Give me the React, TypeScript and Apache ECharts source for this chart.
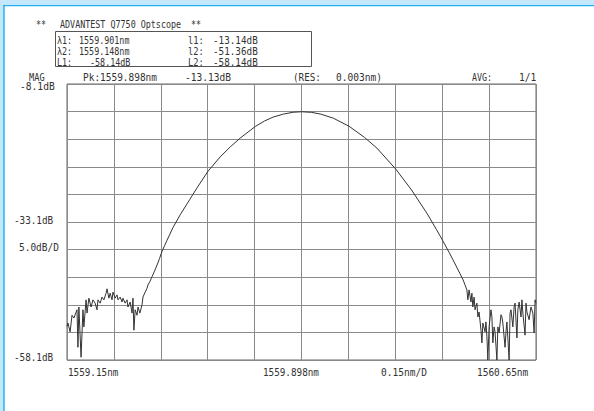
import React, { useEffect, useRef } from "react";
import * as echarts from "echarts";

// Trace samples: wavelength (nm) and level (dB)
const wavelengthNm = [
  1559.148, 1559.151, 1559.158, 1559.164, 1559.170, 1559.180, 1559.183, 1559.186, 1559.193, 1559.199,
  1559.202, 1559.209, 1559.212, 1559.218, 1559.225, 1559.231, 1559.238, 1559.244, 1559.247, 1559.254,
  1559.260, 1559.266, 1559.273, 1559.276, 1559.282, 1559.286, 1559.292, 1559.295, 1559.302, 1559.308,
  1559.311, 1559.318, 1559.324, 1559.327, 1559.334, 1559.340, 1559.343, 1559.350, 1559.356, 1559.359,
  1559.362, 1559.366, 1559.372, 1559.375, 1559.381, 1559.388, 1559.391, 1559.398, 1559.404,
  1559.407, 1559.413, 1559.420, 1559.428, 1559.436, 1559.444, 1559.452, 1559.460, 1559.468, 1559.487,
  1559.510, 1559.532, 1559.541, 1559.564, 1559.599, 1559.638, 1559.670, 1559.702, 1559.750, 1559.780,
  1559.807, 1559.840, 1559.871, 1559.899, 1559.930, 1559.960, 1560.000, 1560.050, 1560.100, 1560.139,
  1560.150, 1560.200, 1560.250, 1560.300, 1560.330, 1560.350, 1560.370, 1560.383, 1560.399, 1560.415,
  1560.421, 1560.427,
  1560.430, 1560.434, 1560.440, 1560.443, 1560.446, 1560.450, 1560.453, 1560.459, 1560.462, 1560.466,
  1560.472, 1560.475, 1560.478, 1560.485, 1560.488, 1560.491, 1560.494, 1560.498, 1560.504, 1560.507,
  1560.510, 1560.514, 1560.517, 1560.523, 1560.526, 1560.530, 1560.536, 1560.539, 1560.542, 1560.549,
  1560.552, 1560.555, 1560.562, 1560.565, 1560.568, 1560.574, 1560.578, 1560.581, 1560.587, 1560.590,
  1560.594, 1560.600, 1560.603, 1560.606, 1560.613, 1560.616, 1560.619, 1560.626, 1560.629, 1560.632,
  1560.638, 1560.642, 1560.645, 1560.648,
];
const powerDb = [
  -52.0, -51.4, -53.0, -50.0, -50.5, -49.0, -55.8, -48.5, -57.6, -49.0,
  -52.1, -47.2, -49.6, -46.9, -48.5, -47.2, -47.8, -49.0, -47.2, -47.8,
  -46.7, -47.2, -46.0, -45.2, -46.9, -46.0, -47.2, -45.8, -46.9, -46.3,
  -47.2, -46.7, -47.6, -46.9, -47.8, -47.2, -48.5, -47.6, -49.6, -46.9,
  -52.7, -49.0, -50.0, -48.5, -49.6, -48.1, -46.7, -45.8, -45.1,
  -44.5, -43.9, -43.0, -42.0, -40.9, -39.7, -38.4, -37.4, -36.4, -34.1,
  -31.8, -29.8, -29.0, -26.9, -23.9, -21.3, -19.5, -17.9, -15.8, -14.8,
  -14.1, -13.55, -13.22, -13.13, -13.24, -13.56, -14.3, -15.75, -17.8, -19.7,
  -20.4, -23.55, -27.3, -31.6, -34.5, -36.5, -38.6, -40.0, -41.8, -43.6,
  -44.5, -45.4,
  -47.2, -45.4, -47.6, -46.0, -48.5, -46.7, -49.0, -47.8, -50.3, -49.4,
  -52.7, -55.0, -51.4, -53.0, -51.2, -53.9, -58.1, -52.1, -49.0, -50.3,
  -55.0, -52.1, -53.0, -58.1, -52.1, -53.2, -49.9, -50.3, -51.4, -55.8,
  -53.0, -51.2, -58.1, -49.6, -49.0, -52.1, -48.5, -47.8, -54.1, -49.0,
  -47.6, -50.3, -47.2, -49.6, -53.6, -47.8, -49.4, -50.8, -49.6, -48.5,
  -49.6, -53.2, -47.2, -47.8,
];

// Axis scale (centre 1559.898 nm, 0.15 nm/div; ref -8.1 dB, 5 dB/div)
const xMin = 1559.148;
const xMax = 1560.648;
const xStep = 0.15;
const yMin = -58.1;
const yMax = -8.1;
const yStep = 5;

// Header / annotation texts: [text, x, y, char width]
const headerTexts: [string, number, number, number][] = [
  ["**", 36, 24, 5.05],
  ["ADVANTEST Q7750 Optscope", 60, 24, 5.05],
  ["**", 191, 24, 5.05],
  ["λ1:", 57, 40, 5.05],
  ["1559.901nm", 79, 40, 5.05],
  ["l1:", 188, 40, 5.3],
  ["-13.14dB", 213, 40, 5.6],
  ["λ2:", 57, 51, 5.05],
  ["1559.148nm", 79, 51, 5.05],
  ["l2:", 188, 51, 5.3],
  ["-51.36dB", 213, 51, 5.6],
  ["L1:", 57, 62, 5.05],
  ["-58.14dB", 90, 62, 5.05],
  ["L2:", 188, 62, 5.3],
  ["-58.14dB", 213, 62, 5.6],
];
const axisTexts: [string, number, number, number][] = [
  ["MAG", 29, 77, 5.2],
  ["-8.1dB", 20, 86, 5.8],
  ["Pk:1559.898nm", 83, 77, 5.7],
  ["-13.13dB", 185, 77, 5.75],
  ["(RES:", 293, 77, 5.6],
  ["0.003nm)", 336, 77, 5.75],
  ["AVG:", 472, 77, 5.0],
  ["1/1", 519, 77, 5.8],
  ["-33.1dB", 14, 220, 5.6],
  ["5.0dB/D", 19, 247, 5.7],
  ["-58.1dB", 14, 357, 5.6],
  ["1559.15nm", 68, 372, 5.6],
  ["1559.898nm", 263, 372, 5.6],
  ["0.15nm/D", 381, 372, 5.75],
  ["1560.65nm", 477, 372, 5.7],
];

const FONT = "DejaVu Sans Mono";
const FS = 10;
const ADV = 0.602 * FS;

function textEl(t: [string, number, number, number]) {
  const [text, x, y, cw] = t;
  return {
    type: "text",
    x,
    y,
    scaleX: cw / ADV,
    silent: true,
    style: {
      text,
      fontFamily: FONT,
      fontSize: FS,
      fill: "#333",
      textAlign: "left",
      textVerticalAlign: "middle",
      align: "left",
      verticalAlign: "middle",
    },
  };
}

export default function App() {
  const ref = useRef<HTMLDivElement>(null);
  useEffect(() => {
    document.body.style.margin = "0";
    const chart = echarts.init(ref.current!, null, { renderer: "svg" });
    const data = wavelengthNm.map((w, i) => [w, powerDb[i]]);
    const gridColor = "#8a8a8a";
    chart.setOption({
      animation: false,
      backgroundColor: "#ffffff",
      grid: {
        left: 67,
        top: 84,
        width: 469,
        height: 276,
        show: true,
        borderColor: "#666",
        borderWidth: 1,
        backgroundColor: "transparent",
      },
      xAxis: {
        type: "value",
        min: xMin,
        max: xMax,
        interval: xStep,
        axisLabel: { show: false },
        axisTick: { show: false },
        axisLine: { show: false },
        splitLine: { show: true, lineStyle: { color: gridColor, width: 1 } },
      },
      yAxis: {
        type: "value",
        min: yMin,
        max: yMax,
        interval: yStep,
        axisLabel: { show: false },
        axisTick: { show: false },
        axisLine: { show: false },
        splitLine: { show: true, lineStyle: { color: gridColor, width: 1 } },
      },
      series: [
        {
          type: "line",
          data,
          showSymbol: false,
          symbol: "none",
          lineStyle: { color: "#333", width: 1 },
          z: 5,
        },
      ],
      graphic: [
        { type: "rect", silent: true, shape: { x: 0, y: 0, width: 594, height: 5 }, style: { fill: "#c4e8f9" }, z: 100 },
        { type: "rect", silent: true, shape: { x: 0, y: 0, width: 3.2, height: 411 }, style: { fill: "#c4e8f9" }, z: 100 },
        { type: "rect", silent: true, shape: { x: 3.2, y: 5, width: 591, height: 1.3 }, style: { fill: "#22aef0" }, z: 101 },
        { type: "rect", silent: true, shape: { x: 3.2, y: 5, width: 1.5, height: 406 }, style: { fill: "#22aef0" }, z: 101 },
        { type: "rect", silent: true, shape: { x: 55.5, y: 31.5, width: 256, height: 35 }, style: { fill: "none", stroke: "#555", lineWidth: 1 }, z: 50 },
        ...headerTexts.map(textEl),
        ...axisTexts.map(textEl),
      ],
    });
    return () => chart.dispose();
  }, []);
  return <div ref={ref} style={{ width: 594, height: 411 }} />;
}
